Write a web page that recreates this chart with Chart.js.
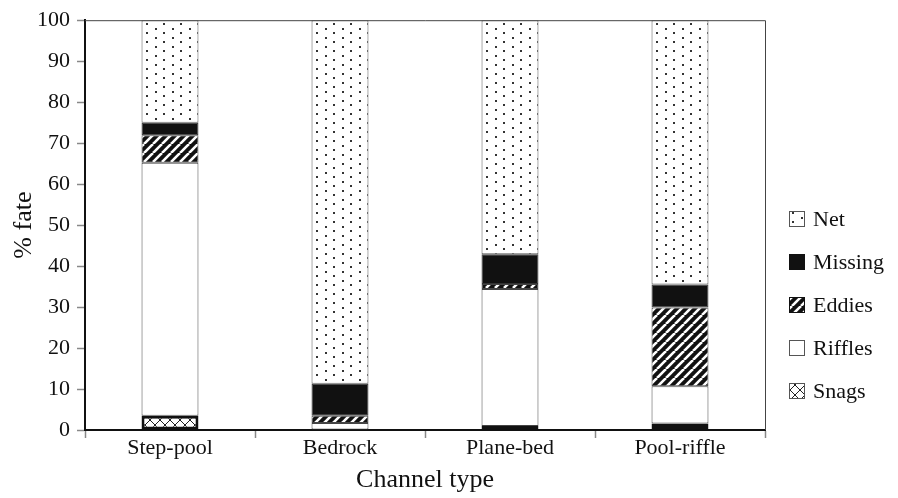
<!DOCTYPE html>
<html>
<head>
<meta charset="utf-8">
<script src="https://cdn.jsdelivr.net/npm/chart.js@4"></script>
<style>
  body { margin: 0; background: #fff; }
  #wrap { width: 898px; height: 498px; }
</style>
</head>
<body>
<div id="wrap"><canvas id="chart" width="898" height="498"></canvas></div>
<script>
const categories = ['Step-pool', 'Bedrock', 'Plane-bed', 'Pool-riffle']
const snags   = [3.5, 0, 1.0, 1.6]
const riffles = [61.7, 1.7, 33.4, 9.1]
const eddies  = [6.7, 1.8, 1.2, 19.2]
const missing = [3.1, 7.8, 7.3, 5.6]
const net     = [25.0, 88.7, 57.1, 64.5]
const yTicks  = [0, 10, 20, 30, 40, 50, 60, 70, 80, 90, 100]

const FONT = '"Liberation Serif", "Times New Roman", serif'

// fill patterns, roughly like the old Excel ones
function makePattern(w, h, draw) {
  const c = document.createElement('canvas')
  c.width = w
  c.height = h
  const g = c.getContext('2d')
  draw(g, w, h)
  return g.createPattern(c, 'repeat')
}

const dots = makePattern(17, 9, (g) => {
  g.fillStyle = '#fff'
  g.fillRect(0, 0, 17, 9)
  g.fillStyle = '#333'
  g.fillRect(2, 1, 2, 2)
  g.fillRect(10, 5, 2, 2)
})

const stripes = makePattern(9, 9, (g) => {
  g.fillStyle = '#111'
  g.fillRect(0, 0, 9, 9)
  g.strokeStyle = '#fff'
  g.lineWidth = 2.6
  for (const x0 of [-9, 0, 9]) {
    g.beginPath()
    g.moveTo(x0, 9)
    g.lineTo(x0 + 9, 0)
    g.stroke()
  }
})

const crosshatch = makePattern(10, 10, (g) => {
  g.fillStyle = '#fff'
  g.fillRect(0, 0, 10, 10)
  g.strokeStyle = '#222'
  g.lineWidth = 1
  g.beginPath()
  g.moveTo(0, 0); g.lineTo(10, 10)
  g.moveTo(10, 0); g.lineTo(0, 10)
  g.stroke()
})

const seg = (label, data, fill, border, bw) => ({
  label,
  data,
  backgroundColor: fill,
  borderColor: border,
  borderWidth: bw,
  borderSkipped: false,
  categoryPercentage: 1,
  barPercentage: 0.335
})

const datasets = [
  seg('Snags', snags, crosshatch, '#111', 3),
  seg('Riffles', riffles, '#fff', '#444', 1),
  seg('Eddies', eddies, stripes, '#444', 1),
  seg('Missing', missing, '#111', '#333', 1),
  seg('Net', net, dots, '#555', 1)
]

// legend on the right, top item = last dataset
const sideLegend = {
  id: 'sideLegend',
  afterDraw(chart) {
    const ctx = chart.ctx
    const items = chart.data.datasets.slice().reverse()
    ctx.save()
    ctx.font = '22px ' + FONT
    ctx.textBaseline = 'middle'
    items.forEach((ds, i) => {
      const cy = 219 + i * 43
      ctx.fillStyle = ds.backgroundColor
      ctx.fillRect(789, cy - 8, 16, 16)
      ctx.strokeStyle = ds.label === 'Missing' || ds.label === 'Eddies' ? '#111' : '#555'
      ctx.lineWidth = 1
      ctx.strokeRect(789.5, cy - 7.5, 15, 15)
      ctx.fillStyle = '#111'
      ctx.fillText(ds.label, 813, cy + 1)
    })
    ctx.restore()
  }
}

// thin frame on top and right of the plot area
const frame = {
  id: 'frame',
  afterDatasetsDraw(chart) {
    const { ctx, chartArea: a } = chart
    ctx.save()
    ctx.strokeStyle = '#444'
    ctx.lineWidth = 1
    ctx.beginPath()
    ctx.moveTo(a.left, a.top + 0.5)
    ctx.lineTo(a.right + 0.5, a.top + 0.5)
    ctx.lineTo(a.right + 0.5, a.bottom)
    ctx.stroke()
    ctx.restore()
  }
}

new Chart(document.getElementById('chart'), {
  type: 'bar',
  data: { labels: categories, datasets },
  options: {
    responsive: false,
    animation: false,
    layout: { padding: { left: 0, top: 16, right: 133, bottom: 0 } },
    plugins: {
      legend: { display: false },
      tooltip: { enabled: false }
    },
    scales: {
      x: {
        stacked: true,
        afterFit: (s) => { s.height = 68 },
        grid: {
          offset: true,
          drawOnChartArea: false,
          drawTicks: true,
          tickLength: 8,
          tickColor: '#888',
          tickWidth: 1.5
        },
        border: { color: '#111', width: 2 },
        ticks: {
          color: '#111',
          font: { family: FONT, size: 22 },
          padding: -3
        },
        title: {
          display: true,
          text: 'Channel type',
          color: '#111',
          font: { family: FONT, size: 26, lineHeight: 1.2 },
          padding: { top: 0, bottom: 2 }
        }
      },
      y: {
        stacked: true,
        min: 0,
        max: 100,
        afterFit: (s) => { s.width = 85 },
        afterBuildTicks: (s) => { s.ticks = yTicks.map(v => ({ value: v })) },
        grid: {
          drawOnChartArea: false,
          drawTicks: true,
          tickLength: 8,
          tickColor: '#888',
          tickWidth: 1.5
        },
        border: { color: '#111', width: 2 },
        ticks: {
          color: '#111',
          font: { family: FONT, size: 22 },
          padding: 7
        },
        title: {
          display: true,
          text: '% fate',
          color: '#111',
          font: { family: FONT, size: 26, lineHeight: 1.2 },
          padding: { top: 9, bottom: 0 }
        }
      }
    }
  },
  plugins: [frame, sideLegend]
})
</script>
</body>
</html>
